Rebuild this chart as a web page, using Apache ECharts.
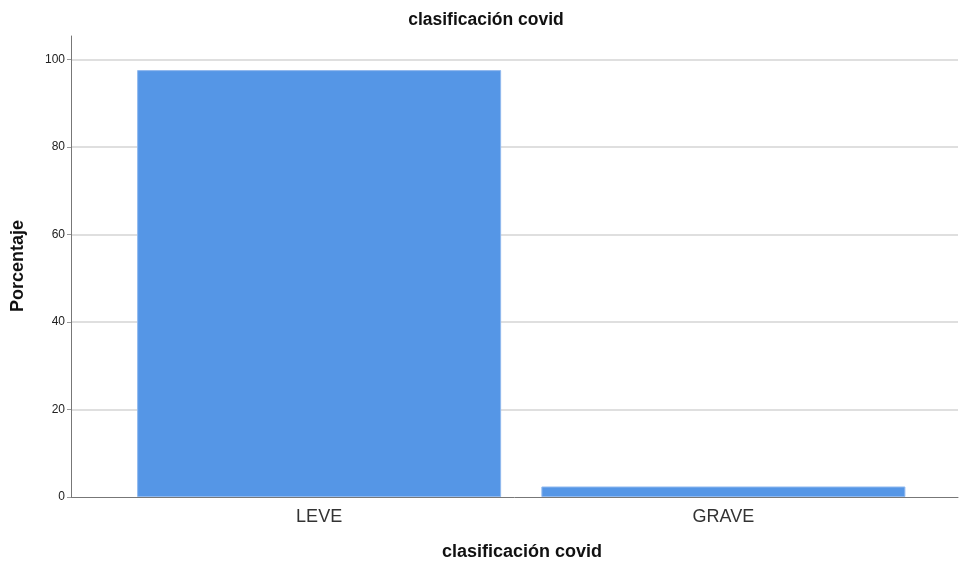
<!DOCTYPE html>
<html>
<head>
<meta charset="utf-8">
<script src="https://cdn.jsdelivr.net/npm/echarts@6/dist/echarts.min.js"></script>
<style>
  html, body { margin: 0; padding: 0; background: #fff; }
  #chart { width: 959px; height: 561px; }
</style>
</head>
<body>
<div id="chart"></div>
<script>
// Clasificación covid: percentage of cases per category
const categories = ['LEVE', 'GRAVE'];
const porcentaje = [97.6, 2.4];
const yTicks = [0, 20, 40, 60, 80, 100];

const titleText = 'clasificación covid';
const xName = 'clasificación covid';
const yName = 'Porcentaje';

const Y_MAX = 105.4;
const FONT = '"Liberation Sans", Arial, sans-serif';

const chart = echarts.init(document.getElementById('chart'), null, { renderer: 'canvas' });

chart.setOption({
  animation: false,
  backgroundColor: '#ffffff',
  grid: [
    // grid 0: bars on the category axis
    { left: 117, right: 33.5, top: 36, bottom: 64 },
    // grid 1: frame with y axis, gridlines and baseline
    { left: 71, right: 1, top: 36, bottom: 64 }
  ],
  xAxis: [
    {
      type: 'category', gridIndex: 0, data: categories,
      axisLine: { show: false }, axisTick: { show: false },
      axisLabel: { color: '#333', fontFamily: FONT, fontSize: 18, margin: 11 }
    },
    {
      type: 'value', gridIndex: 1, min: 0, max: 1,
      axisLine: { show: true, onZero: false, lineStyle: { color: '#777', width: 1 } },
      axisTick: { show: false }, axisLabel: { show: false }, splitLine: { show: false }
    }
  ],
  yAxis: [
    {
      type: 'value', gridIndex: 0, min: 0, max: Y_MAX,
      axisLine: { show: false }, axisTick: { show: false },
      axisLabel: { show: false }, splitLine: { show: false }
    },
    {
      type: 'value', gridIndex: 1, min: 0, max: Y_MAX, interval: 20,
      axisLine: { show: true, lineStyle: { color: '#777', width: 1 } },
      axisTick: { show: true, length: 4, lineStyle: { color: '#999' } },
      axisLabel: {
        color: '#222', fontFamily: FONT, fontSize: 12, margin: 6,
        showMaxLabel: false,
        formatter: v => (yTicks.includes(v) ? String(v) : '')
      },
      splitLine: {
        show: true, showMinLine: false, showMaxLine: false,
        lineStyle: { color: '#d4d4d4', width: 1.5 }
      }
    }
  ],
  series: [
    {
      type: 'bar', xAxisIndex: 0, yAxisIndex: 0,
      data: porcentaje, barWidth: 364,
      itemStyle: { color: '#5596E6', borderColor: '#8fb8ee', borderWidth: 1 },
      z: 3
    }
  ],
  graphic: [
    {
      type: 'text', x: 486, y: 20,
      style: {
        text: titleText, fill: '#111', font: 'bold 17.5px ' + FONT,
        align: 'center', verticalAlign: 'middle'
      }
    },
    {
      type: 'text', x: 522, y: 552,
      style: {
        text: xName, fill: '#111', font: 'bold 18px ' + FONT,
        align: 'center', verticalAlign: 'middle'
      }
    },
    {
      type: 'text', x: 18, y: 266, rotation: Math.PI / 2,
      style: {
        text: yName, fill: '#111', font: 'bold 18px ' + FONT,
        align: 'center', verticalAlign: 'middle'
      }
    }
  ]
});
</script>
</body>
</html>
